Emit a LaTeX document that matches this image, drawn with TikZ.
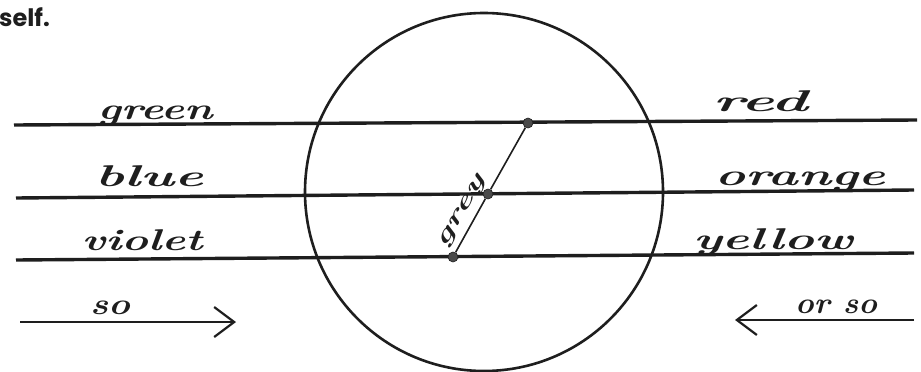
\documentclass[tikz,border=0pt]{standalone}
\usepackage{fontspec}
\usetikzlibrary{arrows.meta}
\newfontfamily\headfont{Poppins}
\definecolor{ink}{HTML}{1E1E1E}
\definecolor{dotc}{HTML}{4A4A4A}
\newcommand{\hw}[2]{\resizebox{#1pt}{\height}{\bfseries\itshape #2}}
\begin{document}
\begin{tikzpicture}[x=1pt,y=-1pt,
  hline/.style={line width=3.4pt, draw=ink},
  ring/.style={draw=ink, circle, line width=2.6pt, minimum size=358pt, inner sep=0pt},
  link/.style={line width=1.6pt, draw=ink},
  dot/.style={circle, fill=dotc, draw=ink, line width=0.6pt, minimum size=10pt, inner sep=0pt},
  hand/.style={font=\fontsize{30}{30}\selectfont, text=ink, inner sep=0pt, anchor=base},
  arrowline/.style={line width=2.2pt, draw=ink, -{Straight Barb[length=20pt,width=30pt,line width=2.2pt]}}]
\useasboundingbox (0,0) rectangle (921,372);
\fill[white] (0,0) rectangle (921,372);

% heading fragment
\node[anchor=base west, inner sep=0pt, text=ink, font=\headfont\bfseries\fontsize{24}{24}\selectfont] (self) at (-1,27) {self.};

% circle
\node[ring] (ring) at (484,192) {};

% horizontal lines
\coordinate (L1a) at (14,125);  \coordinate (L1b) at (917,120);
\coordinate (L2a) at (16,198);  \coordinate (L2b) at (914,190);
\coordinate (L3a) at (16,260);  \coordinate (L3b) at (914,253);
\draw[hline] (L1a) -- (L1b);
\draw[hline] (L2a) -- (L2b);
\draw[hline] (L3a) -- (L3b);

% dots and the grey link
\node[dot] (d1) at (528,123) {};
\node[dot] (d2) at (488,194) {};
\node[dot] (d3) at (453,257) {};
\draw[link] (d3) -- (d2) -- (d1);
\node[font=\fontsize{22}{22}\selectfont, text=ink, inner sep=0pt, rotate=60.8] (grey) at (463,212) {\hw{80}{grey}};

% left labels
\node[hand] (green) at (155,119) {\hw{115}{green}};
\node[hand] (blue) at (149,186) {\hw{108}{blue}};
\node[hand] (violet) at (142,250) {\hw{121}{violet}};
\node[hand] (so1) at (110,314) {\hw{40}{so}};

% right labels
\node[hand] (red) at (760,111) {\hw{95}{red}};
\node[hand] (orange) at (800,185) {\hw{170}{orange}};
\node[hand] (yellow) at (773,249) {\hw{160}{yellow}};
\node[hand] (orso) at (836,313) {\hw{82}{or so}};

% arrows
\coordinate (a1s) at (20,322);  \coordinate (a1e) at (236,322);
\coordinate (a2s) at (914,320); \coordinate (a2e) at (735,320);
\draw[arrowline] (a1s) -- (a1e);
\draw[arrowline] (a2s) -- (a2e);
\end{tikzpicture}
\end{document}
